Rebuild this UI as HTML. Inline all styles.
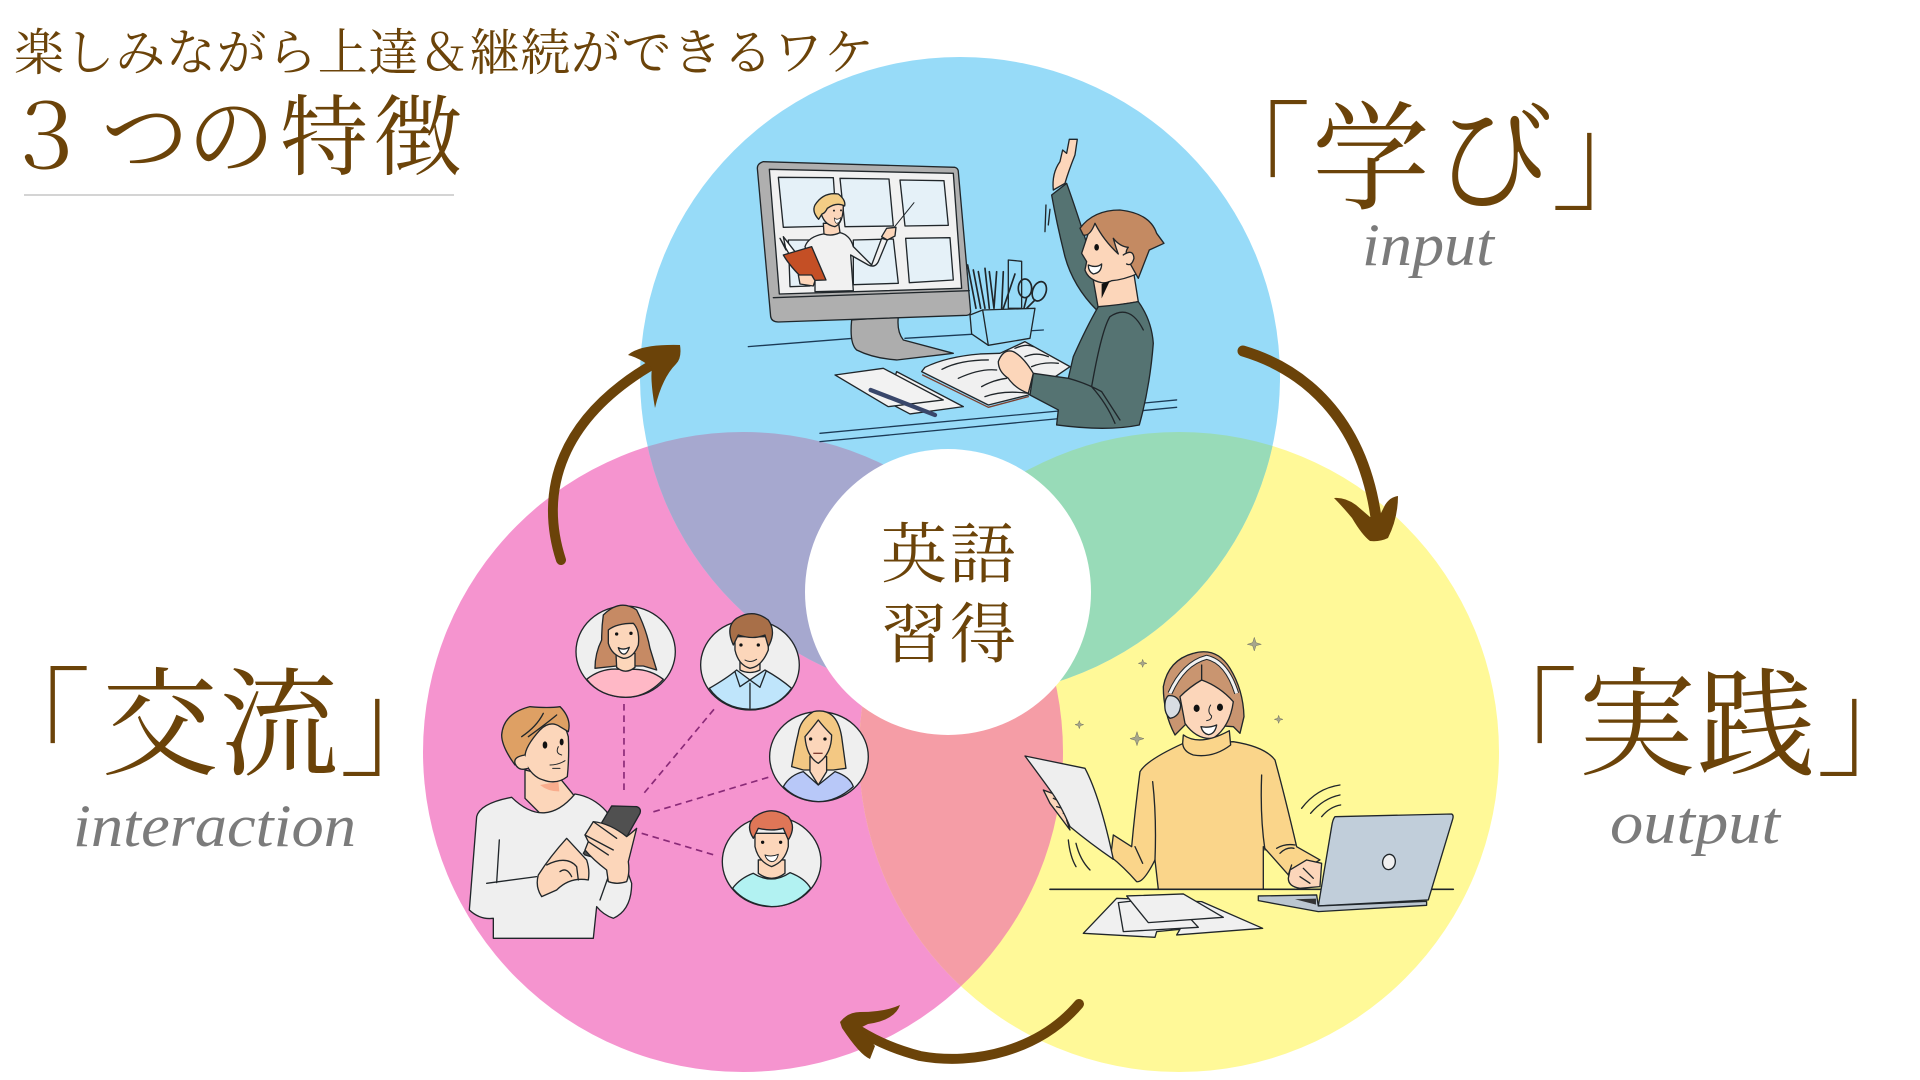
<!DOCTYPE html>
<html lang="ja"><head><meta charset="utf-8"><title>3つの特徴</title>
<style>
html,body{margin:0;padding:0;background:#fff;width:1920px;height:1080px;overflow:hidden}
svg{display:block}
.j{font-family:"Liberation Serif","Noto Serif CJK SC",serif;fill:#6b4309}
.s{font-family:"Liberation Serif",serif;font-style:italic;fill:#7b7b7b}
.k{stroke:#20262a;stroke-width:4;stroke-linejoin:round;stroke-linecap:round}
.n{fill:none}
.sk{fill:#fcd6ba}
.w{fill:#efefef}
</style></head><body>
<svg width="1920" height="1080" viewBox="0 0 1920 1080" xmlns="http://www.w3.org/2000/svg">
<defs>
<clipPath id="cb"><circle cx="960" cy="377" r="320"/></clipPath>
<clipPath id="cp"><circle cx="743" cy="752" r="320"/></clipPath>
<clipPath id="cy"><circle cx="1179" cy="752" r="320"/></clipPath>
</defs>
<rect width="1920" height="1080" fill="#fff"/>
<circle cx="743" cy="752" r="320" fill="#f594cf"/>
<circle cx="1179" cy="752" r="320" fill="#fff998"/>
<circle cx="960" cy="377" r="320" fill="#97dbf8"/>
<g clip-path="url(#cb)"><circle cx="743" cy="752" r="320" fill="#a6a8cf"/><circle cx="1179" cy="752" r="320" fill="#98dbb8"/></g>
<g clip-path="url(#cp)"><circle cx="1179" cy="752" r="320" fill="#f59da6"/></g>
<circle cx="948" cy="592" r="143" fill="#fff"/>

<!-- Illustration: input -->
<g transform="translate(740 130) scale(.3333)">
<path class="k n" style="stroke:#1b3a56" d="M25 650L340 625M495 625L910 600M240 910L1310 810M240 935L1310 832"/>
<path class="k" fill="#adadad" d="M335 570Q328 640 350 660Q400 685 470 690L640 670L490 630Q470 605 475 560Z"/>
<path class="k" fill="#afafaf" d="M70 95L645 112Q655 115 655 125L692 545Q692 555 680 556L115 576Q95 576 92 560L52 115Q52 100 70 95Z"/>
<path class="k" fill="#f1f1f1" d="M88 118L640 130L665 475L118 492Z"/>
<path class="k n" d="M100 503L688 482"/>
<g class="k" fill="#e5f1f8">
<path d="M115 142L280 143L290 288L130 292Z"/><path d="M300 145L447 147L460 288L315 290Z"/><path d="M480 150L612 152L625 286L495 288Z"/><path d="M497 325L630 323L640 450L508 458Z"/><path d="M145 330L215 330L210 468L150 470Z"/><path d="M340 330L460 327L475 460L340 464Z"/>
</g>
<path class="k n" style="stroke-width:3" d="M460 295L522 218"/>
<path class="k" style="fill:#f1f1f1" d="M225 485L225 440L195 350Q205 320 250 312L300 308Q330 315 340 350L395 405L425 325L442 330L415 395Q405 415 385 405L332 375L340 482Z"/>
<path class="k sk" d="M425 320L440 295L468 292L465 318L442 330Z"/>
<path class="k sk" d="M250 280L252 312Q275 320 300 308L296 280Z"/>
<path class="k sk" d="M245 225Q270 205 310 225Q310 280 285 290Q255 285 245 255Z"/>
<path class="k" fill="#f3cd85" d="M236 268Q215 245 225 225Q250 185 295 192Q318 210 314 228Q290 215 262 235Q255 250 246 252Z"/>
<path d="M283 264Q292 272 302 263Q300 280 290 280Q284 278 283 264Z" fill="#fff" stroke="#222" stroke-width="2"/>
<circle cx="282" cy="242" r="3" fill="#222"/><circle cx="303" cy="241" r="3" fill="#222"/>
<path class="k" fill="#fff" d="M120 325L138 360L130 320L165 365L155 385Z"/>
<path class="k" fill="#c44f25" d="M130 375L215 350L258 450L195 452Q150 410 130 375Z"/>
<path class="k sk" d="M175 435L215 435L225 452L220 468L180 462Z"/>

<path class="k" fill="#97dbf8" d="M805 390L845 394V535H805Z"/>
<g class="k n" style="stroke-width:5">
<path d="M683 405L708 535M700 420L722 535M715 425L735 535M735 415L748 535M748 425L762 535M770 425L762 535M790 425L785 535M825 432L790 535"/>
<ellipse cx="855" cy="475" rx="20" ry="28"/><ellipse cx="898" cy="484" rx="20" ry="30" transform="rotate(20 898 484)"/>
<path d="M860 503L852 535M885 510L860 535"/>
</g>
<path class="k" fill="#97dbf8" d="M690 555L728 540L885 535L870 625L745 646L695 612Z"/>
<path class="k n" d="M728 540L745 646"/>

<path class="k" fill="#f2f2f2" d="M470 725L670 830L510 852L440 815Z"/>
<path class="k" fill="#f2f2f2" d="M285 735L430 715L610 810L445 830Z"/>
<path d="M392 780L585 855" stroke="#39476b" stroke-width="13" stroke-linecap="round"/>
<path class="k" fill="#f0f0f0" d="M545 725L745 825L865 795L990 710L855 635L780 670L720 672Q620 680 555 712Z"/>
<path class="k n" d="M606 718Q660 690 745 690M655 745Q720 715 770 720M725 770Q760 750 800 745M825 655Q860 640 880 650M855 680Q890 665 925 680M875 710Q910 695 955 700M735 800Q790 780 865 790"/>
<path class="k n" style="stroke:#7d4030" d="M548 735L745 832L865 800"/>

<path class="k sk" d="M940 180Q935 130 960 95L968 60L980 70L988 28L1012 28L1005 75Q985 125 975 160Z"/>
<path class="k" fill="#557372" d="M935 195L980 160Q1020 270 1090 500L1070 540Q1000 470 975 380Q950 280 935 195Z"/>
<path class="k sk" d="M1060 450L1075 535L1195 515L1180 420Z"/>
<path class="k sk" d="M1025 370L1055 280Q1120 240 1180 300L1195 430Q1150 450 1115 452Q1100 460 1085 458Q1045 450 1035 420L1040 395Z"/>
<path class="k" fill="#c48a62" d="M1020 295Q1060 240 1140 240Q1230 250 1250 310L1272 340L1228 360L1195 445L1170 400Q1150 370 1165 352Q1140 350 1120 325Q1130 360 1135 372Q1090 330 1065 280Q1050 320 1030 315Z"/>
<path class="k sk" d="M1150 375Q1180 355 1182 385Q1175 410 1160 402"/>
<ellipse cx="1070" cy="352" rx="7" ry="10" fill="#111"/>
<path class="k" fill="#fff" d="M1045 405Q1070 415 1085 402Q1085 428 1060 432Q1045 425 1045 405Z"/>
<path d="M1085 462L1110 452L1085 505Z" fill="#111"/>
<path class="k" fill="#557372" d="M1075 530Q1140 525 1195 515Q1235 570 1240 640Q1230 770 1198 885Q1100 905 950 885L955 840L870 795L880 730L985 745L1000 680Q1040 590 1075 530Z"/>
<path class="k n" d="M1210 600Q1170 520 1110 560Q1085 600 1055 770Q1100 820 1125 880M985 745Q1040 760 1085 785M1085 785L1140 870"/>
<path class="k sk" d="M775 695Q790 655 820 665Q850 680 880 730L865 790Q825 775 805 745Q775 725 775 695Z"/>
<path class="k n" d="M918 225L915 305M930 238L925 285"/>
</g>

<!-- Illustration: interaction -->
<g transform="translate(460 590) scale(.3333)">
<g stroke="#8a2a78" stroke-width="5" fill="none" stroke-dasharray="20 14">
<path d="M492 342V610M762 358L545 618M925 562L572 668M545 730L772 798"/>
</g>
<!-- c1 -->
<ellipse class="k" cx="497" cy="185" rx="149" ry="137" fill="#efefef"/>
<path class="k" fill="#ffb8c6" d="M380 268Q430 228 495 240Q560 230 610 268Q560 322 497 322Q420 320 380 268Z"/>
<path class="k" fill="#c68a64" d="M430 75Q480 25 530 60Q560 120 570 175L590 240L550 228L470 228L405 235Q405 190 425 150Q425 110 430 75Z"/>
<path class="k sk" d="M468 190L470 232Q497 255 525 232V190Z"/>
<path class="k sk" d="M445 120Q470 100 520 100Q540 120 535 165Q520 205 490 205Q455 195 445 160Z"/>
<path class="k" fill="#fff" d="M475 173Q490 182 508 172Q500 195 490 192Q480 190 475 173Z"/>
<circle cx="470" cy="132" r="5" fill="#111"/><circle cx="513" cy="130" r="5" fill="#111"/>
<!-- c2 -->
<ellipse class="k" cx="870" cy="225" rx="148" ry="135" fill="#efefef"/>
<path class="k" fill="#bfe5fb" d="M748 295Q800 265 830 240L870 270L915 240Q960 265 995 295Q950 358 870 358Q790 355 748 295Z"/>
<path class="k sk" d="M840 205V240Q870 255 900 240V205Z"/>
<path class="k sk" d="M825 140H925V180Q905 230 870 235Q835 225 825 180Z"/>
<path class="k" fill="#a86f48" d="M820 165Q795 110 830 85Q880 55 925 90Q950 125 925 170L915 135Q880 150 835 135Z"/>
<circle cx="843" cy="165" r="5" fill="#111"/><circle cx="895" cy="165" r="5" fill="#111"/>
<path class="k n" style="stroke-width:3" d="M855 210Q870 220 890 208"/>
<path class="k n" d="M870 280V355M825 245L840 290L870 270L900 292L918 245"/>
<!-- c3 -->
<ellipse class="k" cx="1077" cy="500" rx="148" ry="135" fill="#efefef"/>
<path class="k" fill="#b8c8f8" d="M970 590Q990 555 1030 545L1075 585L1125 545Q1170 560 1180 590Q1130 635 1075 635Q1010 632 970 590Z"/>
<path class="k" fill="#f3c883" d="M1060 365Q1130 350 1145 440L1158 535L1120 540L1030 540L995 530Q1005 470 1015 430Q1020 390 1060 365Z"/>
<path class="k sk" d="M1050 500L1050 545L1075 585L1100 545V500Z"/>
<path class="k sk" d="M1035 440Q1060 410 1075 390Q1090 410 1115 435Q1115 490 1075 520Q1040 500 1035 440Z"/>
<circle cx="1052" cy="447" r="5" fill="#111"/><circle cx="1095" cy="447" r="5" fill="#111"/>
<path d="M1060 490H1088" stroke="#7d3a30" stroke-width="4"/>
<!-- c4 -->
<ellipse class="k" cx="935" cy="815" rx="148" ry="135" fill="#efefef"/>
<path class="k" fill="#b2f2f2" d="M818 895Q840 865 880 850Q935 885 990 848Q1035 865 1052 895Q1005 950 935 950Q860 945 818 895Z"/>
<path class="k sk" d="M895 810V850Q935 880 975 850V810Z"/>
<path class="k sk" d="M885 730H985V770Q975 815 935 830Q895 815 885 770Z"/>
<path class="k" fill="#df7657" d="M880 745Q855 705 885 680Q935 645 985 680Q1010 710 985 750L970 715Q935 725 895 715Z"/>
<circle cx="908" cy="757" r="5" fill="#111"/><circle cx="962" cy="757" r="5" fill="#111"/>
<path class="k" fill="#fff" style="stroke-width:3" d="M915 795Q935 802 955 793Q950 815 935 815Q920 812 915 795Z"/>
<!-- man -->
<path class="k sk" d="M195 540V625L260 690L345 620L300 565Z"/>
<path d="M240 585L295 575L298 604Q265 605 240 585Z" fill="#f9ad8d"/>
<path class="k" fill="#efefef" d="M100 1045L100 985Q60 990 28 960L50 680Q60 640 155 622Q255 720 345 612Q400 620 440 665L515 880Q515 960 460 985Q430 975 410 950L400 1045Z"/>
<path class="k n" d="M118 750L110 878M80 880L230 860M420 930L445 860"/>
<path class="k sk" d="M185 495Q195 400 260 385Q310 380 325 440Q328 500 322 560Q290 585 250 570Q210 560 185 495Z"/>
<path class="k" fill="#dea064" d="M165 525Q125 470 125 435Q130 370 210 350Q265 355 300 350Q335 385 325 425L300 410Q270 390 240 420Q195 470 195 500L175 505Z"/>
<path class="k n" d="M185 440Q230 410 250 370M205 440Q260 400 290 375"/>
<path class="k sk" d="M195 495Q160 500 165 520Q175 545 205 535"/>
<ellipse cx="255" cy="465" rx="7" ry="11" fill="#111"/><ellipse cx="305" cy="456" rx="6" ry="10" fill="#111"/>
<path class="k n" style="stroke-width:3" d="M270 525Q295 525 315 512M278 535H300M295 470Q285 490 305 495"/>
<path class="k" fill="#505050" d="M455 648L530 650Q545 655 540 670L470 795Q440 815 375 795L370 790Z"/>
<path class="k sk" d="M400 695Q450 700 500 740Q525 720 530 715L505 815Q510 850 500 875Q470 885 445 875L440 840Q400 810 375 780L385 755L375 735L400 695Z"/>
<path class="k n" d="M375 735L460 780M385 755L445 795M400 695L470 745"/>
<path class="k sk" d="M320 745L380 810Q390 840 385 870Q330 860 290 900L245 920Q225 890 235 855Q270 800 320 745Z"/>
<path class="k n" d="M260 825Q320 795 350 830L355 870M300 845Q320 830 335 860"/>
</g>

<!-- Illustration: output -->
<g transform="translate(1020 630) scale(.3333)">
<g fill="#a6a68c" stroke="#6f6f60" stroke-width="1.5">
<path d="M703 22L708 38L724 43L708 47L703 63L698 47L682 43L698 38Z"/>
<path d="M351 305L356 321L372 326L356 331L351 347L346 331L330 326L346 321Z"/>
<path d="M368 88L371 97L381 100L371 103L368 112L365 103L355 100L365 97Z"/>
<path d="M178 272L181 281L191 284L181 287L178 296L175 287L165 284L175 281Z"/>
<path d="M776 256L779 265L789 268L779 271L776 280L773 271L763 268L773 265Z"/>
</g>
<path class="k n" d="M845 535Q890 475 960 465M872 550Q910 505 960 495M905 560Q930 530 962 525M145 630Q150 680 168 710M168 640Q180 690 210 720"/>
<path class="k" fill="#fad58a" d="M415 778L405 690Q370 760 350 755Q310 710 272 680L280 615L335 650Q345 540 360 425Q380 390 490 340L640 335Q735 350 765 390Q795 500 830 650L900 690L810 740L730 650V778Z"/>
<path class="k n" d="M398 455Q410 560 405 690M725 435Q720 560 735 660M770 655Q795 640 825 645M780 670Q800 650 822 655M345 650L368 700"/>
<path class="k" fill="#c99570" d="M520 70Q590 50 630 115Q670 180 672 260L660 310L640 290L500 280L465 315Q430 250 430 170Q445 90 520 70Z"/>
<path class="k sk" d="M480 200Q510 170 545 150Q600 170 640 215Q630 290 580 325Q530 330 495 280Z"/>
<path class="k n" d="M545 105V150"/>
<path d="M490 312Q540 355 630 305L615 335Q560 355 500 335Z" fill="#111"/>
<path class="k" fill="#fad58a" d="M490 315Q540 350 628 302L632 345Q580 385 520 375Q490 365 488 340Z"/>
<path class="k" fill="#fff" d="M543 290Q565 295 590 285Q585 312 565 314Q548 310 543 290Z"/>
<ellipse cx="530" cy="235" rx="9" ry="11" fill="#111"/><ellipse cx="600" cy="232" rx="9" ry="11" fill="#111"/>
<path class="k n" style="stroke-width:3" d="M572 225Q560 245 575 258Q575 270 560 272"/>
<path d="M450 190Q490 100 560 82Q620 95 650 190" fill="none" stroke="#20262a" stroke-width="15"/>
<path d="M450 190Q490 100 560 82Q620 95 650 190" fill="none" stroke="#f2f2f2" stroke-width="9"/>
<path class="k" fill="#d8dde2" d="M445 197Q475 195 482 225Q480 260 450 265Q432 250 435 220Q436 205 445 197Z"/>
<path class="k sk" d="M70 480L150 510L180 550L140 570L150 600L90 520Z"/>
<path class="k n" d="M100 505L140 525M110 530L160 545M130 550L180 545"/>
<path class="k" fill="#eeeeee" d="M15 378L195 415Q240 500 280 688Q210 640 150 590Q120 520 90 480Q50 425 15 378Z"/>
<path class="k n" style="stroke-width:5" d="M90 778H1300"/>
<path class="k sk" d="M810 720L860 690L905 700L900 770L840 775Q805 770 805 745Z"/>
<path class="k n" d="M815 705L805 735M850 715L880 745M870 760L840 740"/>
<path class="k" fill="#c1ceda" d="M945 560L1295 552Q1302 555 1298 568L1225 810L895 828L935 590Q938 568 945 560Z"/>
<ellipse class="k" cx="1107" cy="696" rx="19" ry="23" fill="#f0f0f0" transform="rotate(10 1107 696)"/>
<path class="k" fill="#bbc6d0" d="M715 798L890 795L895 828L1220 814L1220 826L895 845L715 812Z"/>
<path d="M825 808L888 806L888 824Z" fill="#333"/>
<path class="k" fill="#f0f0f0" d="M290 805L545 815L728 895L470 915L480 898L410 905L405 922L190 910Z"/>
<path class="k" fill="#f0f0f0" d="M295 818L450 800L535 892L310 905Z"/>
<path class="k" fill="#f0f0f0" d="M320 798L490 792L610 862L385 878Z"/>
</g>

<!-- Arrows -->
<g fill="none" stroke="#6b4309" stroke-linecap="round">
<path d="M561 560C540 495 555 415 668 356" stroke-width="10"/>
<path d="M1243 351C1300 368 1364 415 1377 525" stroke-width="11"/>
<path d="M1079 1004C1040 1050 975 1066 920 1056C890 1048 870 1038 852 1026" stroke-width="10"/>
</g>
<g fill="#6b4309">
<path d="M628 355Q640 344 680 345Q682 358 676 364Q662 378 655 408Q650 380 652 368Q640 358 628 355Z"/>
<path d="M1334 498Q1345 497 1356 505L1370 517L1379 517L1385 505Q1390 497 1398 496Q1398 518 1388 538Q1380 542 1370 541Q1362 535 1352 518Q1342 506 1334 498Z"/>
<path d="M900 1005Q895 1020 868 1024L860 1028L875 1046L870 1059Q860 1055 842 1028L840 1022Q848 1012 860 1012Q885 1012 900 1005Z"/>
</g>

<!-- Title -->
<text class="j" x="14" y="70" font-size="50" textLength="860" lengthAdjust="spacing">楽しみながら上達＆継続ができるワケ</text>
<text class="j" font-size="88" y="168" x="2">３</text>
<text class="j" font-size="88" y="168" x="101 187 280 374">つの特徴</text>
<rect x="24" y="194" width="430" height="2" fill="#d4d4d4"/>

<!-- Labels -->
<text class="j" font-size="118" y="200" x="1193 1312 1435 1551">「学び」</text>
<text class="s" font-size="60" y="265" x="1362" textLength="132" lengthAdjust="spacingAndGlyphs">input</text>
<text class="j" font-size="118" y="766" x="-27 101 220 339">「交流」</text>
<text class="s" font-size="60" y="846" x="73" textLength="283" lengthAdjust="spacingAndGlyphs">interaction</text>
<text class="j" font-size="118" y="766" x="1460 1578 1697 1816">「実践」</text>
<text class="s" font-size="60" y="843" x="1610" textLength="170" lengthAdjust="spacingAndGlyphs">output</text>
<text class="j" font-size="66" y="577" x="881 950">英語</text>
<text class="j" font-size="66" y="657" x="881 950">習得</text>
</svg>
</body></html>
